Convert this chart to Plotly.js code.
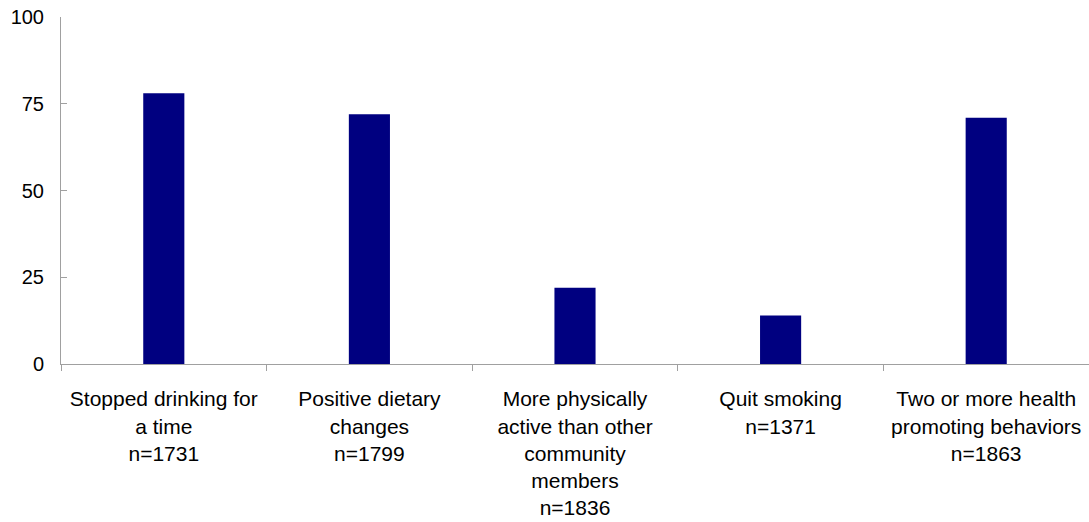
<!DOCTYPE html>
<html>
<head>
<meta charset="utf-8">
<script src="https://cdn.plot.ly/plotly-3.0.1.min.js"></script>
<style>html,body{margin:0;padding:0;background:#fff;}#chart{width:1089px;height:522px;}</style>
</head>
<body>
<div id="chart"></div>
<script>
const categories = [
  "Stopped drinking for<br>a time",
  "Positive dietary<br>changes",
  "More physically<br>active than other<br>community<br>members",
  "Quit smoking",
  "Two or more health<br>promoting behaviors"
];
const sampleSizes = [1731, 1799, 1836, 1371, 1863];
const percentages = [78, 72, 22, 14, 71];
const yTicks = [0, 25, 50, 75, 100];

const labels = categories.map((c, i) => c + "<br>n=" + sampleSizes[i]);

const trace = {
  type: "bar",
  x: labels,
  y: percentages,
  width: 0.2,
  marker: { color: "#000080", line: { width: 0 } },
  hoverinfo: "x+y"
};

const layout = {
  width: 1089,
  height: 522,
  margin: { l: 61, r: 0, t: 17, b: 158 },
  paper_bgcolor: "#ffffff",
  plot_bgcolor: "#ffffff",
  showlegend: false,
  font: { family: "Liberation Sans, Arial, sans-serif", size: 20, color: "#000000" },
  xaxis: {
    type: "category",
    showline: true,
    linecolor: "#a0a0a0",
    linewidth: 1,
    ticks: "outside",
    tickson: "boundaries",
    ticklen: 6,
    tickcolor: "#a0a0a0",
    tickfont: { size: 21 },
    showgrid: false,
    zeroline: false,
    ticklabelstandoff: 16,
    fixedrange: true
  },
  yaxis: {
    range: [0, 100],
    tickvals: yTicks,
    ticktext: yTicks.map(String),
    showline: true,
    linecolor: "#a0a0a0",
    linewidth: 1,
    ticks: "inside",
    ticklen: 6,
    tickcolor: "#a0a0a0",
    tickfont: { size: 20 },
    showgrid: false,
    zeroline: false,
    ticklabelstandoff: 12,
    fixedrange: true
  }
};

Plotly.newPlot("chart", [trace], layout, { displayModeBar: false, staticPlot: true });
</script>
</body>
</html>
